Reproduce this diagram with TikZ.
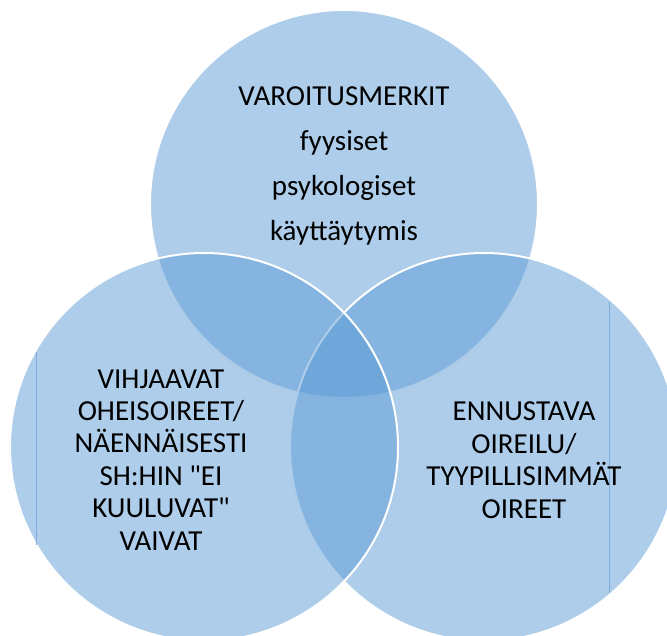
\documentclass[tikz,border=0pt]{standalone}
\usepackage{fontspec}
\setmainfont{Carlito}
\newfontfamily\vennfont{Carlito}
\definecolor{vennblue}{HTML}{5B9BD5}
\definecolor{boxline}{HTML}{7FACDB}
\begin{document}
\begin{tikzpicture}[x=1pt,y=-1pt,
  ring/.style={circle,inner sep=0pt,minimum size=388pt,fill=vennblue,fill opacity=0.5,draw=white,line width=2pt},
  vlabel/.style={align=center,inner sep=0pt,anchor=base,text=black}]
\useasboundingbox (0,0) rectangle (667,636);
\clip (0,0) rectangle (667,636);
% circles: top first, then right, then left
\def\ring#1#2#3{
\node[ring] (#1) at (#2,#3) {};
}
\ring{warn}{344}{204}
\ring{pred}{484}{447}
\ring{hint}{204}{447}
% thin text box edges
\draw[boxline,line width=0.8pt] (36,352) -- (36,545);
\draw[boxline,line width=0.8pt] (609,302) -- (609,593);
% texts (anchored at the last line)
\node[vlabel,font=\vennfont\fontsize{29}{45}\selectfont] (warntext) at (344,241)
  {VAROITUSMERKIT\\fyysiset\\psykologiset\\käyttäytymis};
\node[vlabel,font=\vennfont\fontsize{29}{32.4}\selectfont] (hinttext) at (161,550)
  {VIHJAAVAT\\OHEISOIREET/\\NÄENNÄISESTI\\SH:HIN "EI\\KUULUVAT"\\VAIVAT};
\node[vlabel,font=\vennfont\fontsize{29}{32.4}\selectfont] (predtext) at (524,518)
  {ENNUSTAVA\\OIREILU/\\TYYPILLISIMMÄT\\OIREET};
\end{tikzpicture}
\end{document}
